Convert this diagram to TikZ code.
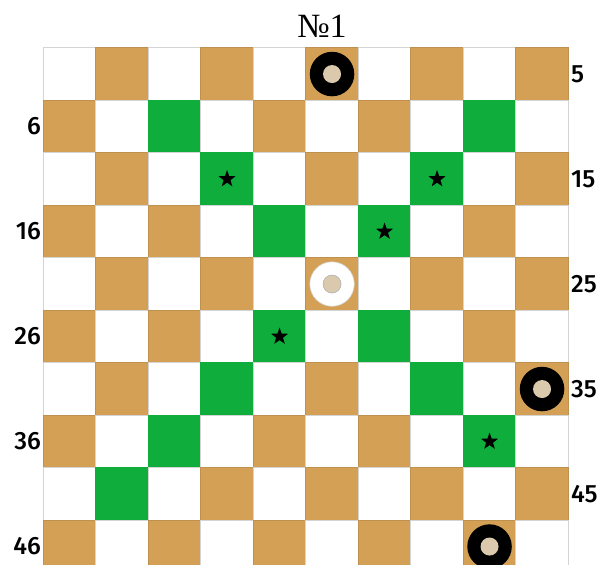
\documentclass[tikz,border=0pt]{standalone}
\usepackage{fontspec}
\setmainfont{Liberation Serif}
\newfontfamily\lblfont{Fira Sans}[UprightFont={* Medium}]
\usetikzlibrary{shapes.geometric}
\definecolor{brownsq}{RGB}{211,160,85}
\definecolor{brownedge}{RGB}{190,145,78}
\definecolor{gr}{RGB}{14,173,60}
\definecolor{whiteedge}{RGB}{212,212,212}
\definecolor{beige}{RGB}{218,201,172}
\begin{document}
\begin{tikzpicture}[x=1pt,y=-1pt,
  base/.style={draw, minimum size=52.5pt, inner sep=0pt, line width=0.9pt},
  lightsq/.style={base, fill=white, draw=whiteedge},
  darksq/.style={base, fill=brownsq, draw=brownedge},
  greensq/.style={base, fill=gr, draw=gr},
  c1-2/.style={greensq}, c1-8/.style={greensq},
  c2-3/.style={greensq}, c2-7/.style={greensq},
  c3-4/.style={greensq}, c3-6/.style={greensq},
  c5-4/.style={greensq}, c5-6/.style={greensq},
  c6-3/.style={greensq}, c6-7/.style={greensq},
  c7-2/.style={greensq}, c7-8/.style={greensq},
  c8-1/.style={greensq},
  blackpiece/.style={circle, fill=black, minimum size=44.5pt, inner sep=0pt},
  whitepiece/.style={circle, fill=white, draw=black!18, line width=0.6pt, minimum size=44.5pt, inner sep=0pt},
  core/.style={circle, fill=beige, minimum size=18pt, inner sep=0pt},
  wcore/.style={core, draw=black!30, line width=0.6pt},
  starmark/.style={star, star points=5, star point ratio=2.5, fill=black, minimum size=18pt, inner sep=0pt},
  lbl/.style={font=\lblfont\fontsize{25}{25}\selectfont, inner sep=0pt},
  lbll/.style={lbl, anchor=east},
  lblr/.style={lbl, anchor=west},
  ttl/.style={font=\fontsize{34}{34}\selectfont, inner sep=0pt, anchor=base}
]
\useasboundingbox (0,0) rectangle (598,565);
\clip (0,0) rectangle (598,565);
\foreach \r in {0,...,9} {
  \foreach \c in {0,...,9} {
    \pgfmathtruncatemacro\odd{mod(\r+\c,2)}
    \ifnum\odd=1 \def\kind{darksq}\else\def\kind{lightsq}\fi
    \pgfmathsetmacro\px{43.3+52.5*(\c+0.5)}
    \pgfmathsetmacro\py{47.8+52.5*(\r+0.5)}
    \edef\tmp{\noexpand\node[\kind, c\r-\c/.try] (s\r-\c) at (\px,\py) {};}
    \tmp
  }
}
% stars
\node[starmark] (st1) at (s2-3) {};
\node[starmark] (st2) at (s2-7) {};
\node[starmark] (st3) at (s3-6) {};
\node[starmark] (st4) at (s5-4) {};
\node[starmark] (st5) at (s7-8) {};
% pieces
\node[blackpiece] (p1) at (s0-5) {};
\node[core] (p1c) at (p1) {};
\node[whitepiece] (p2) at (s4-5) {};
\node[wcore] (p2c) at (p2) {};
\node[blackpiece] (p3) at (s6-9) {};
\node[core] (p3c) at (p3) {};
\node[blackpiece] (p4) at (s9-8) {};
\node[core] (p4c) at (p4) {};
% labels
\node[lblr] (n5) at (571,74.05) {5};
\node[lbll] (n6) at (41,126.55) {6};
\node[lblr] (n15) at (571,179.05) {15};
\node[lbll] (n16) at (41,231.55) {16};
\node[lblr] (n25) at (571,284.05) {25};
\node[lbll] (n26) at (41,336.55) {26};
\node[lblr] (n35) at (571,389.05) {35};
\node[lbll] (n36) at (41,441.55) {36};
\node[lblr] (n45) at (571,494.05) {45};
\node[lbll] (n46) at (41,546.55) {46};
% title
\node[ttl] (title) at (322,37) {№1};
\end{tikzpicture}
\end{document}
